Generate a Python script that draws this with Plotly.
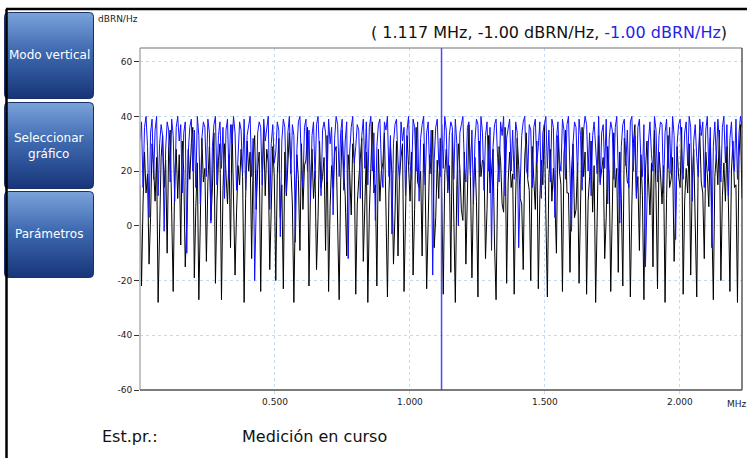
import base64
import numpy as np
import plotly.graph_objects as go

# Spectrum readout: two noise-floor traces in dBRN/Hz over 0 .. 2.23 MHz
trace_blue = [
    31, 38, 14, 36, 40, 29, 3, 34, 39, 17, 35, 40, 11, 30, 37, 33, -2, 28, 38, 35,
    16, 39, 33, 9, 36, 40, 31, 37, 12, 34, 38, -10, 27, 36, 39, 20, 35, 14, 40, 33,
    8, 32, 38, 36, 18, 39, 34, 1, 29, 37, 40, 15, 33, 38, 21, 36, 10, 35, 39, 17,
    37, 30, 40, 34, 13, 26, 38, 35, 19, 39, 13, 33, 37, 40, 18, 32, -20, 6, 34, 38,
    36, 15, 39, 31, 35, 40, 6, 30, 37, 23, 27, 38, 35, -4, 31, 39, 36, 12, 34, 40,
    19, 37, 33, -6, 28, 38, 40, 22, 14, 36, 39, 20, 35, 9, 33, 38, 17, 37, 40, 21,
    11, 35, 38, 34, 16, 39, 30, 36, 4, 32, 40, 37, 18, 34, 39, 13, 31, 38, -12, 27,
    36, 40, 23, 29, 37, 35, 10, 33, 39, 21, 38, 15, 36, 40, 20, 34, 2, 29, 37, 39,
    22, 14, 38, 35, 40, 18, 33, -3, 30, 37, 39, 24, 16, 38, 31, 36, 11, 35, 40, 23,
    17, 39, 36, 20, 38, 9, 32, 37, 40, 15, 34, 38, 19, 35, -18, 24, 36, 39, 23, 18,
    37, 21, 40, 35, 12, 33, 38, 36, 17, 39, 30, 0, 34, 37, 40, 22, 16, 36, 38, 19,
    35, 8, 31, 39, 37, 18, 40, 34, 13, 33, 38, 20, 36, -9, 29, 37, 39, 25, 16, 38,
    33, 40, 11, 32, 36, 39, 20, 35, 17, 38, 34, -8, 15, 33, 38, 40, 21, 18, 37, 35,
    14, 36, 39, 23, 29, 38, 10, 34, 37, 40, 21, 35, 16, 39, 36, 3, 32, 38, 24, 20,
    39, 35, 17, 37, 40, 22, -2, 30, 38, 36, 18, 39, 33, 13, 35, 40, 37, 20, 34, 11,
    33, 38, 26, 19, 40, 15, 34, 37, 21, 39, 8, 32, 38, 35, 17, 36, 40, 23, 1, 29,
    37, 39, 22, 35, 14, 38, 40, 20, 33, 10, 36, 39, 24, 18, 37, -15, 10, 31, 38, 26,
    20, 40, 35, 16, 33, 38, 37, 12, 34, 39, 21, 36, 19, 40, 33, -5, 30, 37, 39, 25,
    17, 34, 38, 22, 40, 36, 9, 31, 37, 25, 18, 39, 33, 38, 14, 35, 40, 20, 36, -8,
    29, 38, 24, 39, 31, 16, 36, 40, 23, 37, 11, 32, 38, 25, 20, 39, 17, 34, 40, 36,
]

trace_black = [
    15, -22, 8, 27, 12, 19, -14, 3, 30, 22, 9, 25, -28, 6, 25, 33, 14, 24, -10, 29,
    35, 5, -24, 18, 28, 10, 26, -7, 31, 20, -15, 2, 28, 17, 30, 36, -19, 7, 23, -27,
    12, 32, 16, 21, -13, 16, 29, 2, 14, 34, -21, 9, 24, 30, -27, 13, 30, 19, 8, 26,
    -8, 37, 14, -18, 5, 22, 15, 28, 18, -28, 10, 31, 20, 27, -12, 25, 33, 6, 21, 27,
    -24, 16, 35, 11, 28, 23, -16, 12, 29, 18, -20, 19, 32, 3, 15, -23, 27, 11, 24, 34,
    21, 8, -28, 9, 26, 17, -9, 30, 6, 22, 24, 36, -22, 13, 28, 10, 20, -16, 3, 31,
    14, 18, 25, -9, 33, -24, 7, 22, 14, 27, 29, 2, -27, 16, 35, 20, 11, -11, 26, 19,
    4, 30, 24, -25, 8, 17, 25, 32, -13, 13, 27, -28, 5, 21, 38, 12, 15, -22, 28, 9,
    20, 23, 34, 7, -26, 12, 29, 19, -14, 4, 31, -11, 18, 25, 30, -24, 10, 33, 22, 9,
    27, -18, 6, 36, 16, 14, 20, -11, 30, 16, -23, 8, 26, 19, 35, -8, 3, 24, 10, 32,
    11, -25, 19, 28, 13, 22, -17, 34, 7, -28, 15, 30, 21, 6, 2, 27, -14, 17, 37, 18,
    -19, 13, 25, 9, -26, 31, 18, 24, 23, -12, 6, 33, 12, 20, 28, -7, -27, 14, 29, 24,
    8, 5, 36, -21, 16, 27, 14, 19, -25, 11, 32, 22, 10, 8, -16, 25, 34, 17, 13, -20,
    29, 17, 6, 31, -23, 10, 24, 15, 37, 4, -26, 18, 28, 9, 21, 9, -10, 33, 20, 15,
    -24, 26, 35, 12, 12, -17, 20, 30, 3, 6, 23, -21, 14, 36, 18, 27, -25, 9, 18, 31,
    5, 22, -28, 7, 33, 16, 20, 25, -12, 3, 29, 19, -24, 13, 34, 14, 21, -17, 27, 10,
    -22, 32, 24, 16, 15, -26, 8, 30, 37, 11, 18, -9, 26, 11, -27, 20, 31, 13, 4, 23,
    -15, 35, 13, -23, 27, 19, 8, 22, -28, 10, 33, 14, 17, 25, -13, 6, 29, 18, 14, 36,
    -25, 9, 21, 12, 30, -18, 16, 28, 5, -26, 24, 34, 16, 12, -12, 27, 19, 7, 32, 2,
    -27, 18, 26, 15, 35, -20, 11, 23, 9, 29, 8, -24, 20, 31, 14, 15, -28, 25, 37, 10,
]

f_max = 2.23                      # MHz, right edge of the sweep
cursor_mhz = 1.117
cursor_black = -1.00
cursor_blue = -1.00
y_ticks = [-60, -40, -20, 0, 20, 40, 60]
x_ticks = [0.5, 1.0, 1.5, 2.0]
buttons = [("Modo vertical", 12, 99), ("Seleccionar<br>gráfico", 102, 189), ("Parámetros", 191, 278)]

# frequency bins, evenly spaced across the sweep
freq = np.linspace(0, f_max, len(trace_blue))

W, H = 747, 458
L, R, T, B = 140, 742, 48, 390     # plot box in pixels


def px(x):
    return (x - L) / (R - L)


def py(y):
    return (B - y) / (B - T)


FONT = "DejaVu Sans"

fig = go.Figure()
fig.add_trace(go.Scatter(x=freq, y=trace_black, mode="lines",
                         line=dict(color="#000000", width=1), hoverinfo="skip"))
fig.add_trace(go.Scatter(x=freq, y=trace_blue, mode="lines",
                         line=dict(color="#1010ff", width=1), hoverinfo="skip"))

shapes = [
    # cursor
    dict(type="line", xref="x", yref="paper", x0=cursor_mhz, x1=cursor_mhz, y0=0, y1=1,
         line=dict(color="#4a4aff", width=1.5)),
    # plot frame
    dict(type="line", xref="paper", yref="paper", x0=0, x1=0, y0=0, y1=1, line=dict(color="#b0b0b0", width=1.5)),
    dict(type="line", xref="paper", yref="paper", x0=0, x1=1, y0=1, y1=1, line=dict(color="#707070", width=1.2)),
    dict(type="line", xref="paper", yref="paper", x0=1, x1=1, y0=0, y1=1, line=dict(color="#303030", width=1.2)),
    dict(type="line", xref="paper", yref="paper", x0=0, x1=1, y0=0, y1=0, line=dict(color="#505050", width=1.5)),
    # window border
    dict(type="line", xref="paper", yref="paper", x0=px(6), x1=px(W + 2), y0=py(9), y1=py(9),
         line=dict(color="#000000", width=2.5)),
    dict(type="line", xref="paper", yref="paper", x0=px(6.5), x1=px(6.5), y0=py(9), y1=py(H + 2),
         line=dict(color="#000000", width=2.5)),
]

svg = (
    '<svg xmlns="http://www.w3.org/2000/svg" width="90" height="87" viewBox="0 0 90 87">'
    '<defs><linearGradient id="g" x1="0" y1="0" x2="0" y2="1">'
    '<stop offset="0" stop-color="#7aa3da"/><stop offset="0.45" stop-color="#3f6ab0"/>'
    '<stop offset="1" stop-color="#173579"/></linearGradient></defs>'
    '<rect x="0.5" y="0.5" width="89" height="86" rx="4" ry="4" fill="url(#g)" stroke="#1b2f6a" stroke-width="1"/>'
    '</svg>'
)
src = "data:image/svg+xml;base64," + base64.b64encode(svg.encode()).decode()

images = []
annotations = []
for label, top, bottom in buttons:
    images.append(dict(source=src, xref="paper", yref="paper", x=px(4), y=py(top),
                       sizex=(94 - 4) / (R - L), sizey=(bottom - top) / (B - T),
                       xanchor="left", yanchor="top", sizing="stretch", layer="above"))
    annotations.append(dict(text=label, xref="paper", yref="paper", x=px(49), y=py((top + bottom) / 2),
                            xanchor="center", yanchor="middle", showarrow=False,
                            font=dict(family=FONT, size=12, color="white")))

annotations += [
    dict(text="dBRN/Hz", xref="paper", yref="paper", x=px(96), y=py(19), xanchor="left", yanchor="middle",
         showarrow=False, font=dict(family=FONT, size=9, color="#222")),
    dict(text=f"( {cursor_mhz:.3f} MHz, {cursor_black:.2f} dBRN/Hz, "
              f"<span style='color:#2424e8'>{cursor_blue:.2f} dBRN/Hz</span>)",
         xref="paper", yref="paper", x=px(729), y=py(32), xanchor="right", yanchor="middle",
         showarrow=False, font=dict(family=FONT, size=16, color="#111")),
    dict(text="MHz", xref="paper", yref="paper", x=px(725), y=py(404), xanchor="left", yanchor="middle",
         showarrow=False, font=dict(family=FONT, size=9, color="#222")),
    dict(text="Est.pr.:", xref="paper", yref="paper", x=px(100), y=py(437), xanchor="left", yanchor="middle",
         showarrow=False, font=dict(family=FONT, size=16, color="#111")),
    dict(text="Medición en curso", xref="paper", yref="paper", x=px(240), y=py(437), xanchor="left",
         yanchor="middle", showarrow=False, font=dict(family=FONT, size=16, color="#111")),
]

fig.update_layout(
    width=W, height=H,
    margin=dict(l=L, r=W - R, t=T, b=H - B),
    paper_bgcolor="white", plot_bgcolor="white",
    showlegend=False,
    shapes=shapes, images=images, annotations=annotations,
    xaxis=dict(range=[0, f_max], tickvals=x_ticks, ticktext=[f"{v:.3f}" for v in x_ticks],
               showgrid=True, gridcolor="#c6daf2", griddash="dot", gridwidth=1,
               zeroline=False, showline=False, ticks="outside", ticklen=3, tickcolor="#c6daf2",
               tickfont=dict(family=FONT, size=9, color="#222")),
    yaxis=dict(range=[-60, 65], tickvals=y_ticks, ticktext=[str(v) for v in y_ticks],
               showgrid=True, gridcolor="#c6daf2", griddash="dot", gridwidth=1,
               zeroline=False, showline=False, ticks="outside", ticklen=5, tickcolor="#333",
               tickfont=dict(family=FONT, size=9, color="#222")),
)

fig.write_html("out.html")
